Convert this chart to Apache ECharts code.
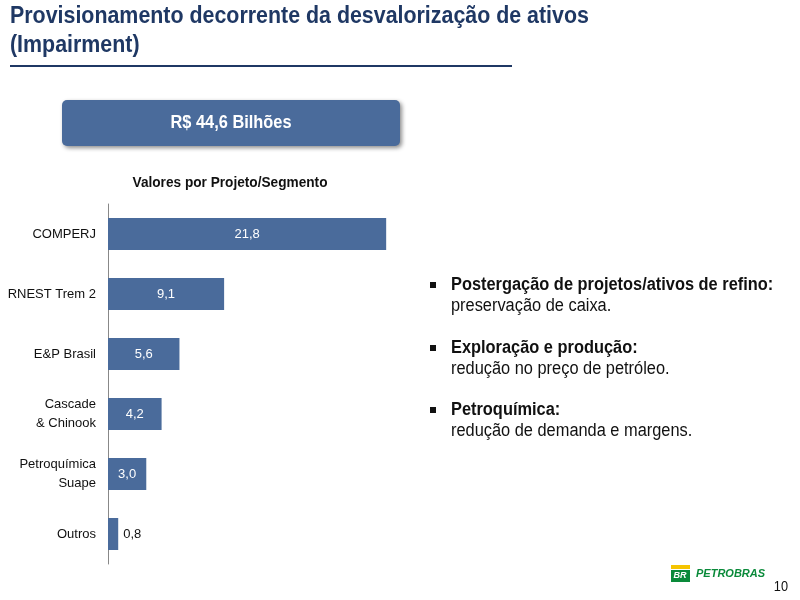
<!DOCTYPE html>
<html>
<head>
<meta charset="utf-8">
<script src="https://cdn.jsdelivr.net/npm/echarts@6/dist/echarts.min.js"></script>
<style>body{margin:0;background:#fff}#main{width:800px;height:600px}</style>
</head>
<body>
<div id="main"></div>
<script>
// dados do gráfico
var categorias = ['COMPERJ', 'RNEST Trem 2', 'E&P Brasil', 'Cascade\n& Chinook', 'Petroquímica\nSuape', 'Outros'];
var valores = [21.8, 9.1, 5.6, 4.2, 3.0, 0.8];
var bullets = [
  ['Postergação de projetos/ativos de refino:', 'preservação de caixa.'],
  ['Exploração e produção:', 'redução no preço de petróleo.'],
  ['Petroquímica:', 'redução de demanda e margens.']
];

var chart = echarts.init(document.getElementById('main'));
var F = 'Liberation Sans';
// texto "narrow": escala horizontal em torno do próprio ponto
function txt(x, y, s, font, fill, align, sx){
  return {type:'text', x:x, y:y, scaleX:sx || 0.91, originX:0, originY:0,
    style:{text:s, font:font+' "'+F+'"', fill:fill, align:align||'left', verticalAlign:'middle'}};
}
var graphics = [
  txt(10, 17, 'Provisionamento decorrente da desvalorização de ativos', 'bold 23px', '#1f3864', 'left', 0.93),
  txt(10, 46, '(Impairment)', 'bold 23px', '#1f3864', 'left', 0.93),
  {type:'rect', shape:{x:10,y:65,width:502,height:2}, style:{fill:'#1f3864'}},
  {type:'rect', shape:{x:62,y:100,width:338,height:46,r:5}, style:{fill:'#4a6b9b', shadowBlur:4, shadowColor:'rgba(0,0,0,0.45)', shadowOffsetX:2, shadowOffsetY:2}},
  txt(231, 123, 'R$ 44,6 Bilhões', 'bold 18px', '#fff', 'center'),
  txt(230, 183, 'Valores por Projeto/Segmento', 'bold 15px', '#111', 'center'),
  // logo
  {type:'rect', shape:{x:671,y:565,width:19,height:4}, style:{fill:'#f5c400'}},
  {type:'rect', shape:{x:671,y:570,width:19,height:12}, style:{fill:'#0a8a3a'}},
  {type:'text', x:680, y:576, style:{text:'BR', font:'italic bold 9px "'+F+'"', fill:'#fff', align:'center', verticalAlign:'middle'}},
  {type:'text', x:696, y:574, style:{text:'PETROBRAS', font:'italic bold 11px "'+F+'"', fill:'#0a8a3a', verticalAlign:'middle'}},
  txt(788, 587, '10', '14px', '#111', 'right')
];
var by = [285, 348, 410];
bullets.forEach(function(b, i){
  graphics.push({type:'rect', shape:{x:430,y:by[i]-3,width:6,height:6}, style:{fill:'#111'}});
  graphics.push(txt(451, by[i], b[0], 'bold 18px', '#111'));
  graphics.push(txt(451, by[i]+21, b[1], '18px', '#111'));
});

chart.setOption({
  animation:false,
  grid:{left:108, top:204, width:319, height:360},
  xAxis:{type:'value', min:0, max:25, show:false},
  yAxis:{type:'category', inverse:true, data:categorias,
    axisLine:{lineStyle:{color:'#888'}}, axisTick:{show:false},
    axisLabel:{color:'#111', fontSize:13, fontFamily:F, margin:12, lineHeight:19}},
  series:[{type:'bar', barWidth:32, itemStyle:{color:'#4a6b9b'},
    data:valores.map(function(v){
      return {value:v, label:{position: v < 2 ? 'right' : 'inside', color: v < 2 ? '#111' : '#fff'}};
    }),
    label:{show:true, fontSize:13, fontFamily:F, formatter:function(p){return p.value.toFixed(1).replace('.', ',');}}
  }],
  graphic:graphics
});
</script>
</body>
</html>
